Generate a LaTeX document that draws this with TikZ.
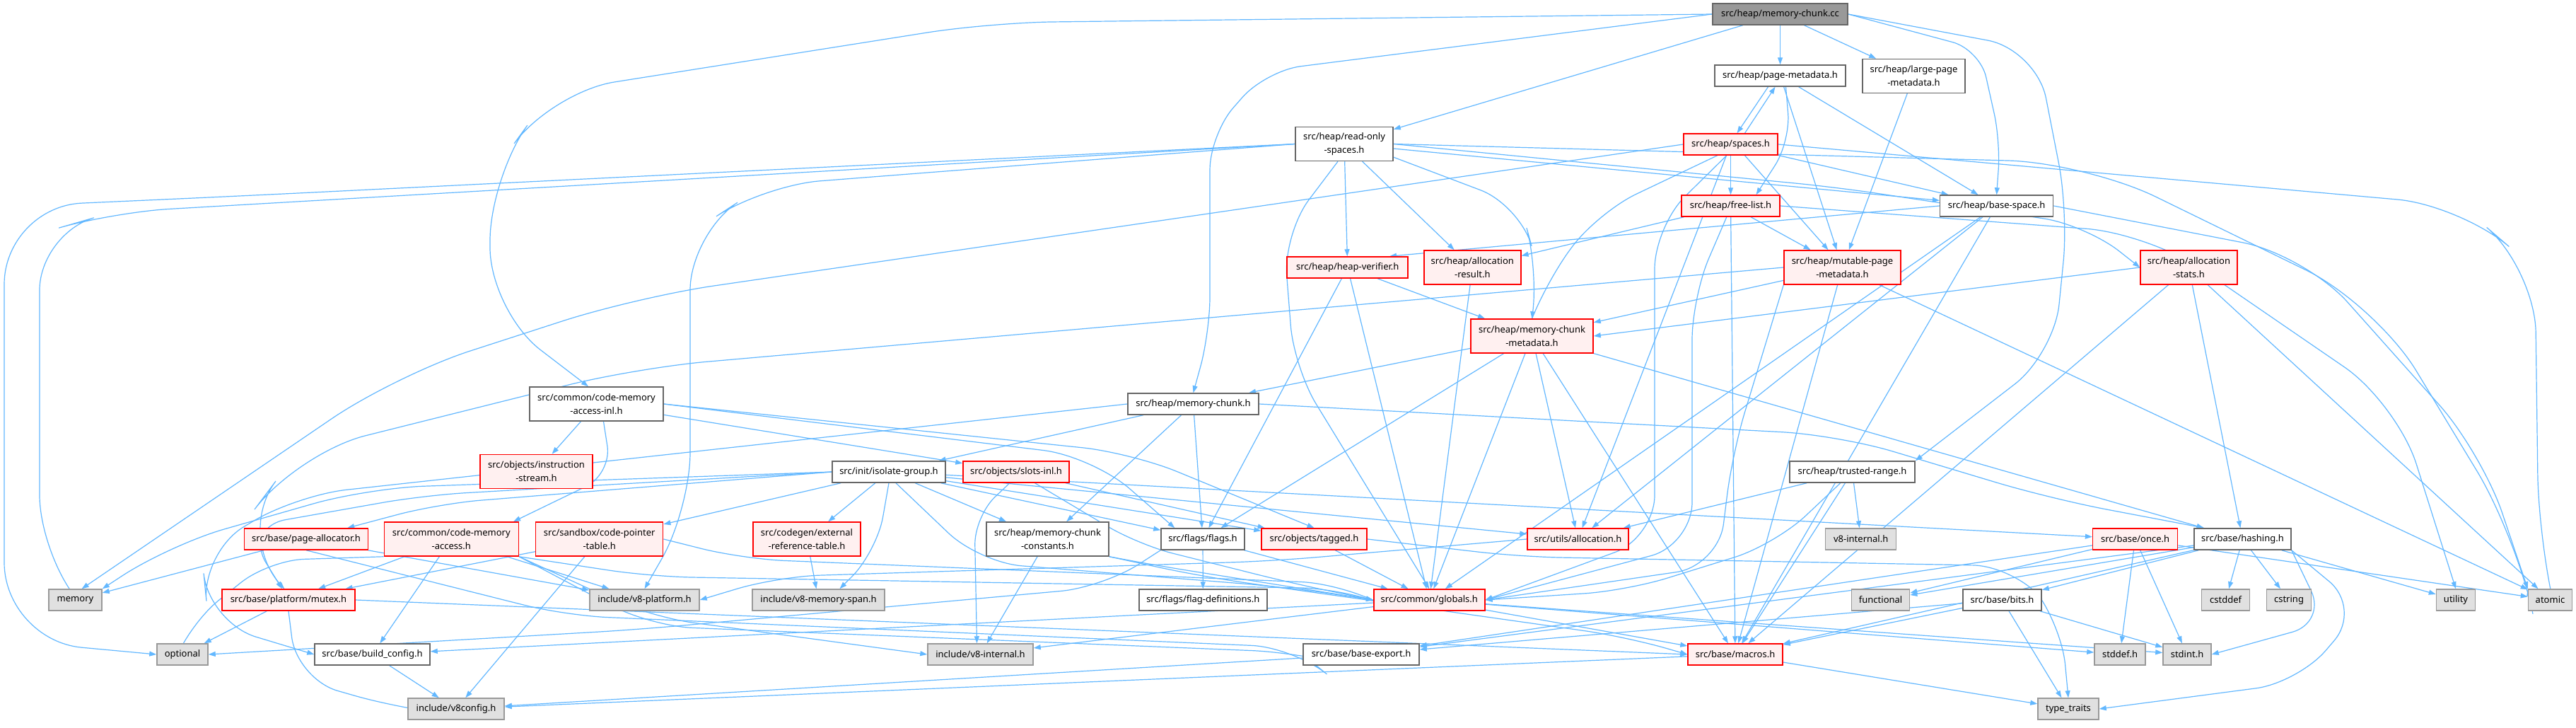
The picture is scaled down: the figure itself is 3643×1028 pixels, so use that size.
\documentclass[tikz,border=0pt]{standalone}
\usepackage{fontspec}
\setmainfont{Noto Sans}
\usetikzlibrary{arrows.meta}
\pgfdeclarelayer{bg}
\pgfsetlayers{bg,main}
\definecolor{edgec}{HTML}{63B8FF}
\definecolor{bordW}{HTML}{666666}
\definecolor{bordG}{HTML}{999999}
\definecolor{grayfill}{HTML}{E0E0E0}
\definecolor{redfill}{HTML}{FFF0F0}
\definecolor{rootfill}{HTML}{999999}
\definecolor{redb}{HTML}{FF0000}
\begin{document}
\begin{tikzpicture}[x=1pt,y=-1pt,
 font=\fontsize{13}{19}\selectfont,
 box/.style={draw, line width=1.5pt, inner sep=0pt, minimum height=30pt, align=center, anchor=center},
 wbox/.style={box, draw=bordW, fill=white},
 rbox/.style={box, draw=redb, fill=redfill},
 gbox/.style={box, draw=bordG, fill=grayfill},
 root/.style={box, draw=bordW, fill=rootfill},
 tall/.style={minimum height=48pt},
 edge/.style={draw=edgec, line width=1.2pt, -{Triangle[length=10pt,width=7pt]}},
 route/.style={edge, rounded corners=#1},
 route/.default=80pt]
\begin{pgfonlayer}{bg}
\fill[white] (0,0) rectangle (3643,1028);
\end{pgfonlayer}
\useasboundingbox (0,0) rectangle (3643,1028);

\node[root, minimum width=191] (cc) at (2517.5,20) {src/heap/memory-chunk.cc};
\node[wbox, minimum width=185] (pageMeta) at (2517.5,107) {src/heap/page-metadata.h};
\node[wbox, tall, minimum width=145] (largePage) at (2706.5,107.5) {src/heap/large-page\\-metadata.h};
\node[wbox, tall, minimum width=138] (ro) at (1901,203.5) {src/heap/read-only\\-spaces.h};
\node[rbox, minimum width=133] (spaces) at (2447.5,204) {src/heap/spaces.h};
\node[rbox, minimum width=139] (freeList) at (2447.5,291) {src/heap/free-list.h};
\node[wbox, minimum width=160] (baseSpace) at (2823.6,291) {src/heap/base-space.h};
\node[rbox, minimum width=171] (heapVer) at (1905.7,378) {src/heap/heap-verifier.h};
\node[rbox, tall, minimum width=137] (allocRes) at (2082.3,378) {src/heap/allocation\\-result.h};
\node[rbox, tall, minimum width=165] (mutPage) at (2605.5,378) {src/heap/mutable-page\\-metadata.h};
\node[rbox, tall, minimum width=137] (allocStats) at (3095.4,378) {src/heap/allocation\\-stats.h};
\node[rbox, tall, minimum width=173] (mcMeta) at (2166.5,475) {src/heap/memory-chunk\\-metadata.h};
\node[wbox, tall, minimum width=189] (cmaInl) at (843.5,571) {src/common/code-memory\\-access-inl.h};
\node[wbox, minimum width=185] (mcH) at (1687.5,571) {src/heap/memory-chunk.h};
\node[rbox, tall, minimum width=159] (instr) at (758.5,666.5) {src/objects/instruction\\-stream.h};
\node[wbox, minimum width=160] (isoGrp) at (1257,667) {src/init/isolate-group.h};
\node[rbox, minimum width=150] (slots) at (1437,667) {src/objects/slots-inl.h};
\node[wbox, minimum width=177] (trusted) at (2619.5,667) {src/heap/trusted-range.h};
\node[rbox, minimum width=175] (pageAlloc) at (433,762) {src/base/page-allocator.h};
\node[rbox, tall, minimum width=190] (cma) at (638.3,762) {src/common/code-memory\\-access.h};
\node[rbox, tall, minimum width=180] (cpt) at (847.7,762) {src/sandbox/code-pointer\\-table.h};
\node[rbox, tall, minimum width=152] (extRef) at (1141,762) {src/codegen/external\\-reference-table.h};
\node[wbox, tall, minimum width=173] (mcConst) at (1481.5,762) {src/heap/memory-chunk\\-constants.h};
\node[wbox, minimum width=118] (flags) at (1701,762) {src/flags/flags.h};
\node[rbox, minimum width=149] (tagged) at (1858.5,762) {src/objects/tagged.h};
\node[rbox, minimum width=143] (alloc) at (2231.5,762) {src/utils/allocation.h};
\node[gbox, minimum width=100] (v8intG) at (2631.7,762) {v8-internal.h};
\node[rbox, minimum width=120] (once) at (3019.6,762) {src/base/once.h};
\node[wbox, minimum width=137] (hashing) at (3171.5,762) {src/base/hashing.h};
\node[gbox, minimum width=75] (memory) at (106.5,848) {memory};
\node[rbox, minimum width=188] (mutex) at (408,848) {src/base/platform/mutex.h};
\node[gbox, minimum width=155] (v8plat) at (911.5,848) {include/v8-platform.h};
\node[gbox, minimum width=187] (memSpan) at (1157.5,848) {include/v8-memory-span.h};
\node[wbox, minimum width=181] (flagDefs) at (1701.3,848) {src/flags/flag-definitions.h};
\node[rbox, minimum width=157] (globals) at (2021.3,848) {src/common/globals.h};
\node[gbox, minimum width=82] (functional) at (2659.6,848) {functional};
\node[wbox, minimum width=111] (bits) at (2831.5,848) {src/base/bits.h};
\node[gbox, minimum width=68] (cstddef) at (3147.6,848) {cstddef};
\node[gbox, minimum width=63] (cstring) at (3237,848) {cstring};
\node[gbox, minimum width=55] (utility) at (3473,848) {utility};
\node[gbox, minimum width=62] (atomic) at (3606.5,848) {atomic};
\node[gbox, minimum width=72] (optional) at (258,925) {optional};
\node[wbox, minimum width=163] (buildCfg) at (526.5,925) {src/base/build\_config.h};
\node[gbox, minimum width=149] (v8int) at (1386.5,925) {include/v8-internal.h};
\node[wbox, minimum width=164] (baseExport) at (1925,925) {src/base/base-export.h};
\node[rbox, minimum width=134] (macros) at (2454,925) {src/base/macros.h};
\node[gbox, minimum width=72] (stddef) at (2998,925) {stddef.h};
\node[gbox, minimum width=68] (stdint) at (3093,925) {stdint.h};
\node[gbox, minimum width=136] (v8config) at (645,1002) {include/v8config.h};
\node[gbox, minimum width=86] (typeTraits) at (2925,1002) {type\_traits};

\begin{pgfonlayer}{bg}
% memory-chunk.cc
\draw[edge] (cc) -- (ro);
\draw[edge] (cc) -- (pageMeta);
\draw[edge] (cc) -- (largePage);
\draw[route=40pt] (cc.east) -- (2800,70) -- (2829,200) -- (baseSpace.north);
\draw[route=70pt] (cc.east) -- (2880,70) -- (2925,300) -- (2905,500) -- (trusted.north east);
\draw[route=50pt] (cc.west) -- (1790,100) -- (1711,190) -- (1711,470) -- (mcH.north);
\draw[route=90pt] (cc.west) -- (1400,32) -- (780,130) -- (693,250) -- (693,440) -- (cmaInl.115);
% page-metadata
\draw[edge] ([xshift=-17pt]pageMeta.south) -- ([xshift=9pt]spaces.north);
\draw[edge] ([xshift=20pt]spaces.north) -- ([xshift=-7pt]pageMeta.south);
\draw[route=40pt] ([xshift=8pt]pageMeta.south) -- (2532,200) -- ([xshift=36pt]freeList.north);
\draw[edge] (pageMeta) -- (mutPage);
\draw[edge] (pageMeta) -- (baseSpace);
\draw[edge] (largePage) -- (mutPage);
% read-only-spaces
\draw[route=110pt] (ro.west) -- (320,278) -- (6,292) -- (6,905) -- (optional.west);
\draw[route=80pt] (ro.west) -- (160,300) -- (56,330) -- (56,780) -- (memory.120);
\draw[route=80pt] (ro.west) -- (1080,262) -- (976,330) -- (976,720) -- (v8plat.north);
\draw[edge] (ro) -- (heapVer);
\draw[edge] (ro) -- (allocRes);
\draw[route=60pt] (ro.-15) -- (2150,290) -- (2175,380) -- (mcMeta.north);
\draw[edge] (ro) -- (baseSpace);
\draw[route=60pt] (ro.east) -- (2600,265) -- (2950,318) -- (allocStats.west);
\draw[route=60pt] (ro.250) -- (1815,330) -- (1830,520) -- (globals.north);
\draw[route=110pt] (ro.east) -- (2950,230) -- (3360,430) -- (3560,760) -- (atomic.north west);
% spaces
\draw[edge] (spaces) -- (freeList);
\draw[edge] ([xshift=20pt]spaces.south) -- ([xshift=-20pt]mutPage.north);
\draw[route=60pt] (spaces.220) -- (2260,300) -- (2185,400) -- (mcMeta.north);
\draw[edge] (spaces) -- (baseSpace);
\draw[route=110pt] (spaces.west) -- (900,420) -- (560,530) -- (memory.60);
\draw[route=60pt] (spaces.250) -- (2340,320) -- (2340,760) -- (globals.east);
\draw[edge] (spaces) -- (alloc);
\draw[route=90pt] (spaces.east) -- (3480,290) -- (3585,380) -- (3590,760) -- (atomic.north);
% free-list
\draw[edge] (freeList) -- (allocRes);
\draw[edge] (freeList) -- (mutPage);
\draw[route=60pt] (freeList.250) -- (2393,420) -- (2393,770) -- (globals.east);
\draw[edge] (freeList) -- (macros);
\draw[route=90pt] (freeList.east) -- (3040,330) -- (3390,570) -- (utility.north);
% base-space
\draw[edge] (baseSpace.west) -- ([xshift=-27pt]heapVer.north east);
\draw[edge] (baseSpace) -- (alloc);
\draw[edge] (baseSpace) -- (globals);
\draw[edge] (baseSpace) -- (macros);
\draw[route=90pt] (baseSpace.east) -- (3260,360) -- (3510,640) -- (atomic.north west);
% heap-verifier, allocation-result
\draw[edge] (heapVer) -- (mcMeta);
\draw[edge] (heapVer) -- (globals);
\draw[edge] (heapVer) -- (flags);
\draw[edge] (allocRes) -- (globals);
% mutable-page-metadata
\draw[edge] (mutPage) -- (mcMeta);
\draw[route=100pt] (mutPage.west) -- (900,520) -- (420,640) -- (330,760) -- (mutex.110);
\draw[route=60pt] (mutPage.south west) -- (2450,640) -- (2430,800) -- (globals.east);
\draw[edge] (mutPage) -- (macros);
\draw[edge] (mutPage) -- (atomic);
% allocation-stats
\draw[edge] (allocStats.west) -- (mcMeta.east);
\draw[edge] (allocStats) -- (hashing);
\draw[edge] (allocStats) -- (atomic);
\draw[edge] (allocStats) -- (macros);
% memory-chunk-metadata
\draw[edge] (mcMeta) -- (mcH);
\draw[edge] (mcMeta) -- (flags);
\draw[edge] (mcMeta) -- (globals);
\draw[edge] (mcMeta) -- (alloc);
\draw[edge] (mcMeta) -- (hashing);
\draw[edge] (mcMeta) -- (macros);
% memory-chunk.h
\draw[edge] (mcH) -- (isoGrp);
\draw[edge] (mcH) -- (flags);
\draw[edge] (mcH) -- (mcConst);
\draw[route=80pt] (mcH.east) -- (2600,615) -- (2900,705) -- ([xshift=15pt]hashing.north west);
\draw[route=70pt] (mcH.west) -- (420,700) -- (285,780) -- (295,880) -- (buildCfg.west);
% isolate-group
\draw[route=80pt] (isoGrp.west) -- (520,690) -- (240,770) -- (memory.north east);
\draw[route=60pt] (isoGrp.west) -- (600,700) -- (345,745) -- (mutex.120);
\draw[route=60pt] (isoGrp.west) -- (620,712) -- ([xshift=-30pt]pageAlloc.north east);
\draw[edge] (isoGrp) -- (cpt);
\draw[edge] (isoGrp) -- (extRef);
\draw[route=50pt] (isoGrp.south) -- (1240,780) -- ([xshift=30pt]memSpan.north);
\draw[edge] (isoGrp) -- (mcConst);
\draw[edge] (isoGrp) -- (flags);
\draw[edge] (isoGrp) -- (tagged);
\draw[edge] (isoGrp) -- (alloc);
\draw[edge] (isoGrp) -- (once);
\draw[route=60pt] ([xshift=10pt]isoGrp.south) -- (1385,795) -- (1820,830) -- (globals.west);
% slots-inl
\draw[route=40pt] (slots.240) -- (1378,730) -- ([xshift=-5pt]v8int.north);
\draw[edge] (slots) -- (tagged);
\draw[route=50pt] (slots) -- (1610,770) -- (1830,825) -- (globals.west);
% code-memory-access-inl
\draw[edge] (cmaInl) -- (instr);
\draw[route=40pt] ([xshift=10pt]cmaInl.south) -- (865,670) -- ([xshift=-8pt]cma.north east);
\draw[edge] (cmaInl) -- (slots);
\draw[route=70pt] (cmaInl.east) -- (1545,645) -- ([xshift=20pt]flags.north west);
\draw[route=70pt] (cmaInl.east) -- (1600,640) -- (tagged.north);
% code-memory-access
\draw[route=50pt] (cma.south west) -- (380,792) -- (270,880) -- (optional.north);
\draw[edge] (cma) -- (mutex);
\draw[edge] (cma) -- (buildCfg);
\draw[edge] (cma) -- (v8plat);
\draw[route=60pt] (cma.south east) -- (920,815) -- (1900,832) -- (globals.west);
\draw[route=60pt] (cma.south east) -- (920,872) -- (v8int.west);
\draw[route=60pt] (cma.south east) -- (920,885) -- (1830,922) -- (baseExport.west);
% code-pointer-table
\draw[edge] (cpt) -- (mutex);
\draw[edge] (cpt) -- (v8config);
\draw[route=60pt] (cpt.east) -- (1050,790) -- (1900,825) -- (globals.west);
% page-allocator
\draw[edge] (pageAlloc) -- (memory);
\draw[edge] (pageAlloc) -- (v8plat);
\draw[route=60pt] (pageAlloc.south) -- (800,870) -- (1830,915) -- (baseExport.west);
% mutex
\draw[edge] (mutex) -- (optional);
\draw[route=60pt] (mutex.south) -- (420,960) -- (560,1000) -- (v8config.west);
\draw[edge] (mutex.east) -- (macros.west);
% misc
\draw[edge] (buildCfg) -- (v8config);
\draw[edge] (extRef) -- (memSpan);
\draw[edge] (mcConst) -- (v8int);
\draw[route=40pt] (mcConst.south east) -- (1640,800) -- (globals.west);
\draw[route=60pt] (mcConst.south east) -- (1700,815) -- (2300,900) -- (macros.west);
\draw[edge] (flags) -- (flagDefs);
\draw[route=60pt] (flags.south west) -- (1560,830) -- (900,890) -- (optional.east);
\draw[edge] (flags) -- (globals);
\draw[edge] (tagged) -- (globals);
\draw[route=60pt] (tagged.east) -- (2150,787) -- (2850,800) -- (2915,880) -- (typeTraits.north);
\draw[route=60pt] (alloc.west) -- (1800,793) -- (1100,815) -- (v8plat.east);
\draw[edge] (trusted) -- (alloc);
\draw[edge] (trusted) -- (v8intG);
\draw[route=60pt] (trusted) -- (2510,770) -- (2300,835) -- (globals.east);
\draw[edge] (trusted) -- (macros);
% once
\draw[edge] (once) -- (functional);
\draw[edge] (once) -- (stddef);
\draw[edge] (once) -- (stdint);
\draw[edge] (once) -- (atomic);
\draw[edge] (once) -- (baseExport);
% hashing
\draw[edge] (hashing) -- (bits);
\draw[edge] (hashing) -- (cstddef);
\draw[edge] (hashing) -- (cstring);
\draw[edge] (hashing) -- (utility);
\draw[route=50pt] (hashing.south east) -- (3290,880) -- (stdint.east);
\draw[route=60pt] (hashing.south east) -- (3340,860) -- (3250,965) -- (typeTraits.east);
\draw[edge] (hashing) -- (macros);
\draw[edge] (hashing) -- (baseExport);
\draw[edge] (hashing) -- (functional);
% bits
\draw[edge] (bits) -- (typeTraits);
\draw[edge] (bits) -- (stdint);
\draw[edge] (bits) -- (baseExport);
\draw[edge] (bits) -- (macros);
% globals
\draw[edge] (globals) -- (v8int);
\draw[edge] (globals) -- (macros);
\draw[edge] (globals) -- (buildCfg);
\draw[edge] (globals) -- (stddef);
\draw[edge] (globals) -- (stdint);
% macros, base-export
\draw[edge] (macros) -- (v8config);
\draw[edge] (macros) -- (typeTraits);
\draw[edge] (baseExport) -- (v8config);
\end{pgfonlayer}
\end{tikzpicture}
\end{document}
